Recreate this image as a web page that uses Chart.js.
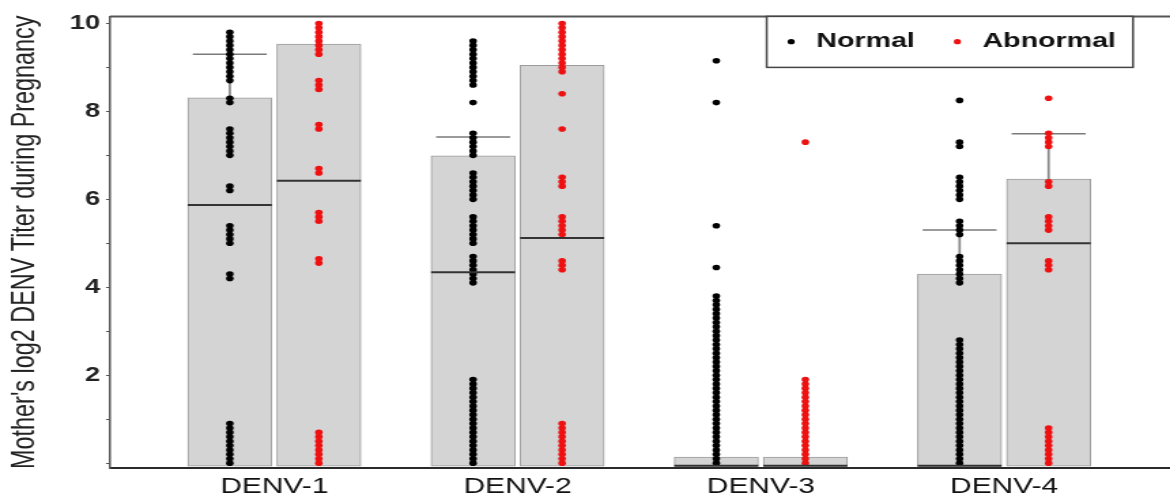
<!DOCTYPE html>
<html>
<head>
<meta charset="utf-8">
<script src="https://cdn.jsdelivr.net/npm/chart.js@4.4.1/dist/chart.umd.min.js"></script>
<style>
  html, body { margin: 0; padding: 0; background: #fff; overflow: hidden; }
  /* the reference is stretched sideways, so draw narrow and stretch;
     the plot runs off the right edge like in the reference */
  #wrap { width: 880px; height: 500px; transform: scaleX(1.3605); transform-origin: 0 0; }
</style>
</head>
<body>
<div id="wrap"><canvas id="titerChart"></canvas></div>
<script>
const categories = ['DENV-1', 'DENV-2', 'DENV-3', 'DENV-4'];
const yTickValues = [0, 1, 2, 3, 4, 5, 6, 7, 8, 9, 10];
const yTickLabels = ['', '', '2', '', '4', '', '6', '', '8', '', '10'];

// individual titers (log2)
const normalDenv1 = [0, 0.1, 0.2, 0.3, 0.4, 0.5, 0.6, 0.7, 0.8, 0.9, 4.2, 4.3, 5.0, 5.1, 5.2, 5.3, 5.4,
  6.2, 6.3, 7.0, 7.1, 7.2, 7.3, 7.4, 7.5, 7.6, 8.2, 8.3, 8.7, 8.8, 8.9, 9.0, 9.1, 9.2, 9.3, 9.4, 9.5, 9.6, 9.7, 9.8];
const abnormalDenv1 = [0, 0.1, 0.2, 0.3, 0.4, 0.5, 0.6, 0.7, 4.55, 4.65, 5.5, 5.6, 5.7, 6.6, 6.7, 7.6, 7.7,
  8.5, 8.6, 8.7, 9.3, 9.4, 9.5, 9.6, 9.7, 9.8, 9.9, 10.0];
const normalDenv2 = [0, 0.1, 0.2, 0.3, 0.4, 0.5, 0.6, 0.7, 0.8, 0.9, 1.0, 1.1, 1.2, 1.3, 1.4, 1.5, 1.6, 1.7, 1.8, 1.9,
  4.1, 4.2, 4.3, 4.4, 4.5, 4.6, 4.7, 5.0, 5.1, 5.2, 5.3, 5.4, 5.5, 5.6, 6.0, 6.1, 6.2, 6.3, 6.4, 6.5, 6.6,
  7.0, 7.1, 7.2, 7.3, 7.4, 7.5, 8.2, 8.6, 8.7, 8.8, 8.9, 9.0, 9.1, 9.2, 9.3, 9.4, 9.5, 9.6];
const abnormalDenv2 = [0, 0.1, 0.2, 0.3, 0.4, 0.5, 0.6, 0.7, 0.8, 0.9, 4.4, 4.5, 4.6, 5.2, 5.3, 5.4, 5.5, 5.6,
  6.3, 6.4, 6.5, 7.6, 8.4, 8.9, 9.0, 9.1, 9.2, 9.3, 9.4, 9.5, 9.6, 9.7, 9.8, 9.9, 10.0];
const normalDenv3 = [0, 0.1, 0.2, 0.3, 0.4, 0.5, 0.6, 0.7, 0.8, 0.9, 1.0, 1.1, 1.2, 1.3, 1.4, 1.5, 1.6, 1.7, 1.8, 1.9,
  2.0, 2.1, 2.2, 2.3, 2.4, 2.5, 2.6, 2.7, 2.8, 2.9, 3.0, 3.1, 3.2, 3.3, 3.4, 3.5, 3.6, 3.7, 3.8,
  4.45, 5.4, 8.2, 9.15];
const abnormalDenv3 = [0, 0.1, 0.2, 0.3, 0.4, 0.5, 0.6, 0.7, 0.8, 0.9, 1.0, 1.1, 1.2, 1.3, 1.4, 1.5, 1.6, 1.7, 1.8, 1.9, 7.3];
const normalDenv4 = [0, 0.1, 0.2, 0.3, 0.4, 0.5, 0.6, 0.7, 0.8, 0.9, 1.0, 1.1, 1.2, 1.3, 1.4, 1.5, 1.6, 1.7, 1.8, 1.9,
  2.0, 2.1, 2.2, 2.3, 2.4, 2.5, 2.6, 2.7, 2.8, 4.1, 4.2, 4.3, 4.4, 4.5, 4.6, 4.7, 5.2, 5.3, 5.4, 5.5,
  6.0, 6.1, 6.2, 6.3, 6.4, 6.5, 7.2, 7.3, 8.25];
const abnormalDenv4 = [0, 0.1, 0.2, 0.3, 0.4, 0.5, 0.6, 0.7, 0.8, 4.4, 4.5, 4.6, 5.3, 5.4, 5.5, 5.6,
  6.3, 6.4, 7.2, 7.3, 7.4, 7.5, 8.3];

// box summaries per serotype
const boxLowNormal = [-0.07, -0.07, -0.07, -0.07];
const boxHighNormal = [8.31, 6.99, 0.14, 4.30];
const medianNormal = [5.87, 4.34, -0.06, -0.06];
const whiskerNormal = [9.30, 7.42, null, 5.30];
const boxLowAbnormal = [-0.07, -0.07, -0.07, -0.07];
const boxHighAbnormal = [9.53, 9.05, 0.14, 6.46];
const medianAbnormal = [6.42, 5.12, -0.06, 5.00];
const whiskerAbnormal = [null, null, null, 7.49];

const normalTiters = [normalDenv1, normalDenv2, normalDenv3, normalDenv4];
const abnormalTiters = [abnormalDenv1, abnormalDenv2, abnormalDenv3, abnormalDenv4];

const FONT = '"Liberation Sans", Arial, Helvetica, sans-serif';
const groupX = categories.map((c, i) => i + 1);
const SHIFT = 0.183;
const X_MIN = 0.3247, X_MAX = 4.794;

function dotPoints(lists, side) {
  return lists.flatMap((vals, i) => vals.map(v => ({ x: groupX[i] + side * SHIFT, y: v })));
}
function rangeBars(lows, highs, side) {
  return highs.map((h, i) => (h == null || lows[i] == null) ? null : { x: groupX[i] + side * SHIFT, y: [lows[i], h] })
    .filter(Boolean);
}
function linePoints(vals, side) {
  return vals.map((v, i) => v == null ? null : { x: groupX[i] + side * SHIFT, y: v }).filter(Boolean);
}

// top frame line and the boxed legend sitting inside the plot
const frameAndLegend = {
  id: 'frameAndLegend',
  afterDraw(chart) {
    const { ctx, chartArea } = chart;
    ctx.save();
    ctx.strokeStyle = '#555';
    ctx.lineWidth = 2;
    ctx.beginPath();
    ctx.moveTo(chartArea.left, chartArea.top);
    ctx.lineTo(chart.width, chartArea.top);
    ctx.stroke();

    const items = chart.data.datasets.filter(d => d.inLegend);
    ctx.font = 'bold 21px ' + FONT;
    const dotGap = 18.5, itemGap = 31.3, padL = 18, padR = 12.6;
    let w = padL + padR;
    items.forEach((it, i) => { w += dotGap + ctx.measureText(it.label).width + (i ? itemGap : 0); });
    const right = chart.scales.x.getPixelForValue(4.53);
    const left = right - w;
    const top = chartArea.top;
    const h = 51;
    ctx.fillStyle = '#fff';
    ctx.fillRect(left, top, w, h);
    ctx.strokeStyle = '#444';
    ctx.lineWidth = 1.5;
    ctx.strokeRect(left, top, w, h);
    let x = left + padL;
    const y = top + 25.3;
    ctx.textBaseline = 'middle';
    ctx.textAlign = 'left';
    items.forEach(it => {
      ctx.beginPath();
      ctx.arc(x, y, 2.6, 0, Math.PI * 2);
      ctx.fillStyle = it.pointBackgroundColor;
      ctx.fill();
      ctx.fillStyle = '#111';
      ctx.fillText(it.label, x + dotGap, y);
      x += dotGap + ctx.measureText(it.label).width + itemGap;
    });
    ctx.restore();
  }
};

const ctx = document.getElementById('titerChart').getContext('2d');
new Chart(ctx, {
  type: 'scatter',
  data: {
    datasets: [
      {
        label: 'Normal', inLegend: true, type: 'scatter', order: 1,
        data: dotPoints(normalTiters, -1),
        pointRadius: 2.8, pointBackgroundColor: '#000', pointBorderWidth: 0, backgroundColor: '#000'
      },
      {
        label: 'Abnormal', inLegend: true, type: 'scatter', order: 1,
        data: dotPoints(abnormalTiters, 1),
        pointRadius: 2.8, pointBackgroundColor: '#ee1111', pointBorderWidth: 0, backgroundColor: '#ee1111'
      },
      {
        label: 'median', type: 'scatter', order: 0,
        data: linePoints(medianNormal, -1).concat(linePoints(medianAbnormal, 1)),
        pointStyle: 'line', pointRadius: 30.9, pointBorderColor: '#333', pointBorderWidth: 2, borderColor: '#333'
      },
      {
        label: 'cap', type: 'scatter', order: 2,
        data: linePoints(whiskerNormal, -1).concat(linePoints(whiskerAbnormal, 1)),
        pointStyle: 'line', pointRadius: 27.2, pointBorderColor: '#7a7a7a', pointBorderWidth: 1.5, borderColor: '#7a7a7a'
      },
      {
        label: 'whisker', type: 'bar', order: 3, grouped: false,
        data: rangeBars(boxHighNormal, whiskerNormal, -1).concat(rangeBars(boxHighAbnormal, whiskerAbnormal, 1)),
        barThickness: 1.1, backgroundColor: '#8a8a8a', borderWidth: 0
      },
      {
        label: 'box', type: 'bar', order: 4, grouped: false,
        data: rangeBars(boxLowNormal, boxHighNormal, -1).concat(rangeBars(boxLowAbnormal, boxHighAbnormal, 1)),
        barThickness: 61.8, backgroundColor: '#d4d4d4', borderColor: '#9c9c9c', borderWidth: 1, borderSkipped: false
      }
    ]
  },
  options: {
    responsive: true,
    maintainAspectRatio: false,
    animation: false,
    events: [],
    layout: { autoPadding: false, padding: { top: 13, right: 0, bottom: 0, left: 0 } },
    plugins: { legend: { display: false }, tooltip: { enabled: false } },
    scales: {
      x: {
        type: 'linear', position: 'bottom', min: X_MIN, max: X_MAX, offset: false,
        afterBuildTicks: s => { s.ticks = groupX.map(v => ({ value: v })); },
        afterFit: s => { s.height = 32; },
        ticks: {
          autoSkip: false, maxRotation: 0, padding: 6, color: '#111',
          font: { family: FONT, size: 22 },
          callback: (v, i) => categories[i]
        },
        grid: { display: false, drawTicks: false, offset: false },
        border: { display: true, color: '#2a2a2a', width: 2 }
      },
      y: {
        type: 'linear', min: -0.11, max: 10.16,
        afterBuildTicks: s => { s.ticks = yTickValues.map(v => ({ value: v })); },
        afterFit: s => { s.width = 80.9; },
        ticks: {
          padding: 4.4, color: '#222',
          font: { family: FONT, size: 20, weight: 'bold' },
          callback: (v, i) => yTickLabels[i]
        },
        grid: { display: true, drawOnChartArea: false, drawTicks: true, tickLength: 3, color: '#555' },
        border: { display: true, color: '#555', width: 1.5 },
        title: {
          display: true,
          text: "Mother's log2 DENV Titer during Pregnancy",
          color: '#222',
          font: { family: FONT, size: 23.4, weight: 'normal' },
          padding: { top: 4.4, bottom: 0 }
        }
      }
    }
  },
  plugins: [frameAndLegend]
});
</script>
</body>
</html>
